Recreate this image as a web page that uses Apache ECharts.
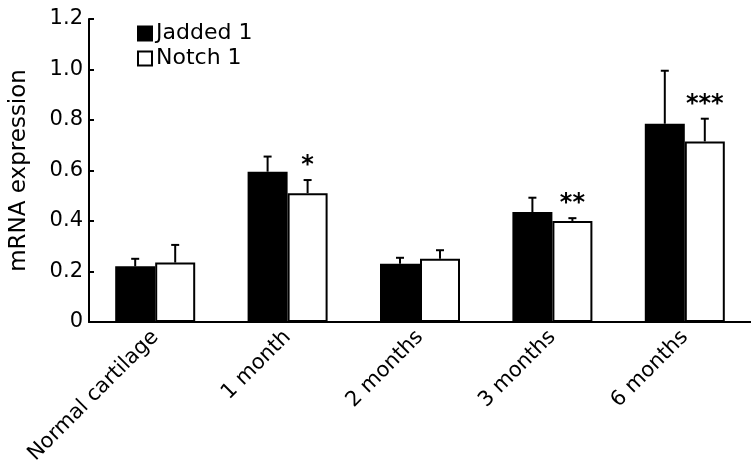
<!DOCTYPE html>
<html>
<head>
<meta charset="utf-8">
<script src="https://cdn.jsdelivr.net/npm/echarts@6/dist/echarts.min.js"></script>
<style>html,body{margin:0;padding:0;background:#fff}#c{width:751px;height:467px}</style>
</head>
<body>
<div id="c"></div>
<script>
const categories = ['Normal cartilage', '1 month', '2 months', '3 months', '6 months'];
const jadded = [0.22, 0.595, 0.23, 0.435, 0.785];
const jaddedErr = [0.03, 0.06, 0.024, 0.057, 0.21];
const notch = [0.235, 0.51, 0.25, 0.40, 0.715];
const notchErr = [0.07, 0.052, 0.034, 0.011, 0.09];
const significance = ['', '*', '', '**', '***'];
const yTicks = [0, 0.2, 0.4, 0.6, 0.8, 1.0, 1.2];

const FONT = 'DejaVu Sans';
const chart = echarts.init(document.getElementById('c'), null, {renderer: 'canvas'});

function errRender(offset, withSig) {
  return function (params, api) {
    const i = api.value(0), v = api.value(1), e = api.value(2);
    const base = api.coord([i, v]);
    const top = api.coord([i, v + e]);
    const x = base[0] + offset;
    const children = [
      {type: 'line', shape: {x1: x, y1: base[1], x2: x, y2: top[1]}, style: {stroke: '#000', lineWidth: 2}},
      {type: 'line', shape: {x1: x - 4, y1: top[1], x2: x + 4, y2: top[1]}, style: {stroke: '#000', lineWidth: 2}}
    ];
    if (withSig) {
      const s = significance[i];
      if (s) children.push({type: 'text', x: x, y: top[1] - 2, style: {text: s, fill: '#000', font: 'bold 24px "' + FONT + '"', align: 'center', verticalAlign: 'bottom'}});
    }
    return {type: 'group', children: children};
  };
}

chart.setOption({
  animation: false,
  backgroundColor: '#fff',
  textStyle: {fontFamily: FONT, color: '#000'},
  grid: {left: 85, top: 19, width: 670, height: 308, containLabel: false},
  legend: {
    orient: 'vertical', left: 132, top: 16, itemWidth: 14, itemHeight: 14, itemGap: 0,
    icon: 'rect',
    data: ['Jadded 1', 'Notch 1'],
    textStyle: {fontFamily: FONT, fontSize: 22, color: '#000', padding: [0, 0, 0, -1], lineHeight: 25}
  },
  xAxis: {
    type: 'category', data: categories,
    axisLine: {lineStyle: {color: '#000', width: 2}},
    axisTick: {inside: true, length: 5, lineStyle: {color: '#000', width: 2}},
    axisLabel: {rotate: 45, margin: 12, fontSize: 21, fontFamily: FONT, color: '#000', interval: 0}
  },
  yAxis: {
    type: 'value', min: 0, max: 1.2, interval: 0.2,
    name: 'mRNA expression', nameLocation: 'middle', nameRotate: 90, nameGap: 58,
    nameTextStyle: {fontSize: 23, fontFamily: FONT, color: '#000'},
    splitLine: {show: false},
    axisLine: {show: true, lineStyle: {color: '#000', width: 2}},
    axisTick: {show: true, inside: true, length: 5, lineStyle: {color: '#000', width: 2}},
    axisLabel: {margin: 6, fontSize: 21, fontFamily: FONT, color: '#000',
      formatter: function (v) { const t = yTicks.find(function (k) { return Math.abs(k - v) < 1e-9; }); return t === 0 ? '0' : t.toFixed(1); }}
  },
  series: [
    {name: 'Jadded 1', type: 'bar', data: jadded, barWidth: 40, barGap: '0%',
      itemStyle: {color: '#000', borderColor: '#000', borderWidth: 2}},
    {name: 'Notch 1', type: 'bar', data: notch, barWidth: 40,
      itemStyle: {color: '#fff', borderColor: '#000', borderWidth: 2}},
    {type: 'custom', renderItem: errRender(-20, false), z: 5,
      data: jadded.map(function (v, i) { return [i, v, jaddedErr[i]]; })},
    {type: 'custom', renderItem: errRender(20, true), z: 5,
      data: notch.map(function (v, i) { return [i, v, notchErr[i]]; })}
  ]
});
</script>
</body>
</html>
